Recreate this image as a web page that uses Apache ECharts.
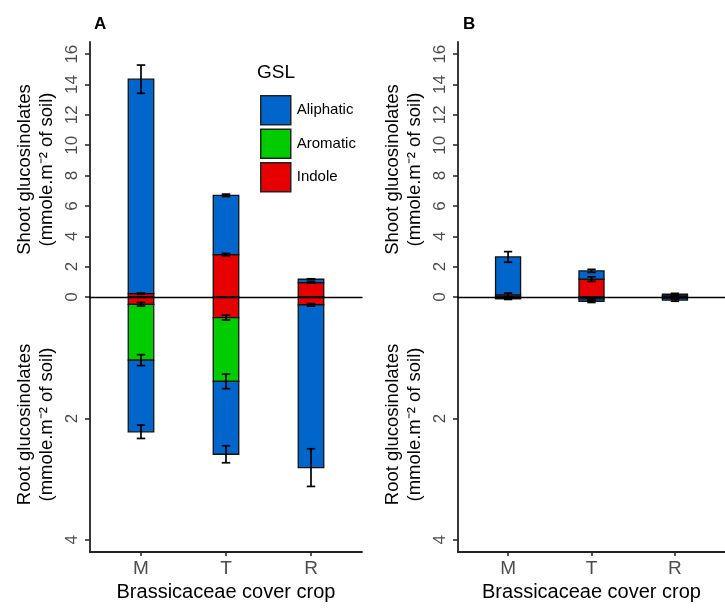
<!DOCTYPE html>
<html>
<head>
<meta charset="utf-8">
<script src="https://cdn.jsdelivr.net/npm/echarts@6/dist/echarts.min.js"></script>
<style>html,body{margin:0;padding:0;background:#fff}#chart{width:725px;height:608px}</style>
</head>
<body>
<div id="chart"></div>
<script>
// ---------- data ----------
const categories = ['M', 'T', 'R'];
const categoryPos = [1, 2, 3];
const shootTicks = [0, 2, 4, 6, 8, 10, 12, 14, 16];
const rootTicks = [0, 2, 4];
const gslNames = ['Indole', 'Aromatic', 'Aliphatic']; // stacking order from zero outward

// Panel A, shoot (mmole.m-2)
const A_shoot_indole = [0.22, 2.79, 0.95];
const A_shoot_aromatic = [0, 0, 0];
const A_shoot_aliphatic = [14.13, 3.91, 0.22];
const A_shoot_indole_se = [0.04, 0.08, 0.04];
const A_shoot_aromatic_se = [0, 0, 0];
const A_shoot_aliphatic_se = [0.93, 0.08, 0.03];
// Panel A, root
const A_root_indole = [0.12, 0.34, 0.13];
const A_root_aromatic = [0.92, 1.05, 0];
const A_root_aliphatic = [1.18, 1.20, 2.68];
const A_root_indole_se = [0.03, 0.04, 0.02];
const A_root_aromatic_se = [0.09, 0.12, 0];
const A_root_aliphatic_se = [0.11, 0.14, 0.31];
// Panel B, shoot
const B_shoot_indole = [0.14, 1.18, 0.08];
const B_shoot_aromatic = [0, 0, 0];
const B_shoot_aliphatic = [2.50, 0.54, 0.10];
const B_shoot_indole_se = [0.12, 0.15, 0.07];
const B_shoot_aromatic_se = [0, 0, 0];
const B_shoot_aliphatic_se = [0.35, 0.10, 0.06];
// Panel B, root
const B_root_indole = [0.01, 0.03, 0.02];
const B_root_aromatic = [0, 0, 0];
const B_root_aliphatic = [0.02, 0.04, 0.03];
const B_root_indole_se = [0.01, 0.02, 0.01];
const B_root_aromatic_se = [0, 0, 0];
const B_root_aliphatic_se = [0.01, 0.02, 0.02];

const colors = { Aliphatic: '#0066cc', Aromatic: '#00cc00', Indole: '#e60000' };
const FONT = 'Liberation Sans, Arial, sans-serif';
const BAR_W = 0.3, CAP_W = 0.1;

// grids: 0 A-shoot, 1 A-root, 2 B-shoot, 3 B-root
const gridData = [
  { vals: [A_shoot_indole, A_shoot_aromatic, A_shoot_aliphatic], se: [A_shoot_indole_se, A_shoot_aromatic_se, A_shoot_aliphatic_se] },
  { vals: [A_root_indole, A_root_aromatic, A_root_aliphatic], se: [A_root_indole_se, A_root_aromatic_se, A_root_aliphatic_se] },
  { vals: [B_shoot_indole, B_shoot_aromatic, B_shoot_aliphatic], se: [B_shoot_indole_se, B_shoot_aromatic_se, B_shoot_aliphatic_se] },
  { vals: [B_root_indole, B_root_aromatic, B_root_aliphatic], se: [B_root_indole_se, B_root_aromatic_se, B_root_aliphatic_se] }
];

function renderBar(params, api) {
  const x = api.value(0), y0 = api.value(1), y1 = api.value(2);
  const p0 = api.coord([x - BAR_W / 2, y0]);
  const p1 = api.coord([x + BAR_W / 2, y1]);
  return {
    type: 'rect',
    shape: { x: p0[0], y: Math.min(p0[1], p1[1]), width: p1[0] - p0[0], height: Math.abs(p1[1] - p0[1]) },
    style: { fill: api.visual('color'), stroke: '#111', lineWidth: 1.3 }
  };
}
function renderErr(params, api) {
  const x = api.value(0), c = api.value(1), e = api.value(2);
  const top = api.coord([x, c + e]), bot = api.coord([x, c - e]);
  const l = api.coord([x - CAP_W / 2, c])[0], r = api.coord([x + CAP_W / 2, c])[0];
  const st = { stroke: '#000', lineWidth: 1.7 };
  return {
    type: 'group',
    children: [
      { type: 'line', shape: { x1: top[0], y1: top[1], x2: bot[0], y2: bot[1] }, style: st },
      { type: 'line', shape: { x1: l, y1: top[1], x2: r, y2: top[1] }, style: st },
      { type: 'line', shape: { x1: l, y1: bot[1], x2: r, y2: bot[1] }, style: st }
    ]
  };
}

const series = [];
gridData.forEach((g, gi) => {
  const cum = [0, 0, 0];
  const errItems = [];
  gslNames.forEach((name, k) => {
    const items = [];
    categoryPos.forEach((x, i) => {
      const v = g.vals[k][i];
      if (v > 0) {
        items.push([x, cum[i], cum[i] + v]);
        errItems.push([x, cum[i] + v, g.se[k][i]]);
        cum[i] += v;
      }
    });
    series.push({
      type: 'custom', name: name, xAxisIndex: gi, yAxisIndex: gi,
      renderItem: renderBar, itemStyle: { color: colors[name] },
      encode: { x: 0, y: [1, 2] }, data: items, z: 2, silent: true
    });
  });
  series.push({
    type: 'custom', name: 'err', xAxisIndex: gi, yAxisIndex: gi,
    renderItem: renderErr, encode: { x: 0, y: 1 }, data: errItems, z: 4, silent: true
  });
});

const panelLeft = [90, 458];
const grid = [], xAxis = [], yAxis = [];
panelLeft.forEach((left) => {
  grid.push({ left: left, top: 42, width: 272, height: 255 });
  grid.push({ left: left, top: 297, width: 272, height: 255 });
});
for (let gi = 0; gi < 4; gi++) {
  const isRoot = gi % 2 === 1;
  if (!isRoot) {
    xAxis.push({
      gridIndex: gi, type: 'value', min: 0.4, max: 3.6, z: 10,
      axisLine: { show: true, onZero: false, lineStyle: { color: '#000', width: 1.3 } },
      axisTick: { show: false }, axisLabel: { show: false }, splitLine: { show: false }
    });
    yAxis.push({
      gridIndex: gi, type: 'value', min: 0, max: 16.8,
      axisLine: { show: true, onZero: false, lineStyle: { color: '#222', width: 1.8 } },
      axisTick: { show: true, length: 5, customValues: shootTicks, lineStyle: { color: '#222', width: 1.5 } },
      axisLabel: { rotate: 90, fontSize: 17, color: '#4d4d4d', fontFamily: FONT, margin: 9,
                   customValues: shootTicks.filter(v => v > 0) },
      splitLine: { show: false },
      name: 'Shoot glucosinolates\n(mmole.m\u207B\u00B2 of soil)', nameLocation: 'middle', nameRotate: 90, nameGap: 32,
      nameTextStyle: { fontSize: 18.5, lineHeight: 22, color: '#000', fontFamily: FONT }
    });
  } else {
    xAxis.push({
      gridIndex: gi, type: 'value', min: 0.4, max: 3.6, position: 'bottom',
      axisLine: { show: true, onZero: false, lineStyle: { color: '#222', width: 1.8 } },
      axisTick: { show: true, length: 4, customValues: categoryPos, lineStyle: { color: '#222', width: 1.5 } },
      axisLabel: { customValues: categoryPos, fontSize: 19, color: '#4d4d4d', fontFamily: FONT, margin: 7,
                   formatter: v => categories[Math.round(v) - 1] },
      splitLine: { show: false },
      name: 'Brassicaceae cover crop', nameLocation: 'middle', nameGap: 30,
      nameTextStyle: { fontSize: 20, color: '#000', fontFamily: FONT }
    });
    yAxis.push({
      gridIndex: gi, type: 'value', min: 0, max: 4.2, inverse: true,
      axisLine: { show: true, onZero: false, lineStyle: { color: '#222', width: 1.8 } },
      axisTick: { show: true, length: 5, customValues: rootTicks, lineStyle: { color: '#222', width: 1.5 } },
      axisLabel: { rotate: 90, fontSize: 17, color: '#4d4d4d', fontFamily: FONT, margin: 9, customValues: rootTicks },
      splitLine: { show: false },
      name: 'Root glucosinolates\n(mmole.m\u207B\u00B2 of soil)', nameLocation: 'middle', nameRotate: 90, nameGap: 32,
      nameTextStyle: { fontSize: 18.5, lineHeight: 22, color: '#000', fontFamily: FONT }
    });
  }
}

const legendOrder = ['Aliphatic', 'Aromatic', 'Indole'];
const option = {
  backgroundColor: '#fff',
  animation: false,
  title: [
    { text: 'A', left: 89, top: 11, textStyle: { fontSize: 17, fontWeight: 'bold', color: '#000', fontFamily: FONT } },
    { text: 'B', left: 458, top: 11, textStyle: { fontSize: 17, fontWeight: 'bold', color: '#000', fontFamily: FONT } },
    { text: 'GSL', left: 252, top: 58, textStyle: { fontSize: 19, fontWeight: 'normal', color: '#000', fontFamily: FONT } }
  ],
  legend: {
    orient: 'vertical', left: 255, top: 90, itemWidth: 30, itemHeight: 29, itemGap: 3,
    selectedMode: false,
    textStyle: { fontSize: 15, color: '#000', fontFamily: FONT, padding: [0, 0, 0, 1] },
    data: legendOrder.map(n => ({ name: n, icon: 'rect',
      itemStyle: { color: colors[n], borderColor: '#222', borderWidth: 1.5 } }))
  },
  grid: grid, xAxis: xAxis, yAxis: yAxis, series: series
};
const chart = echarts.init(document.getElementById('chart'), null, { renderer: 'canvas' });
chart.setOption(option);
</script>
</body>
</html>
